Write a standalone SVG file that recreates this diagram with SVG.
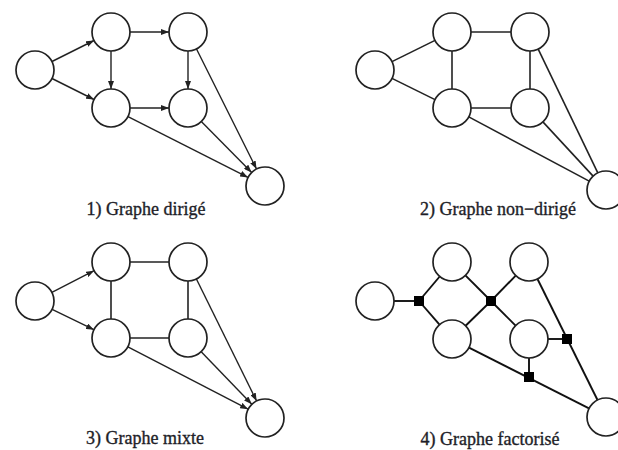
<svg xmlns="http://www.w3.org/2000/svg" width="618" height="450" viewBox="0 0 618 450">
  <style>
    .node { fill: #ffffff; stroke: #222222; stroke-width: 1.7; }
    .edge { stroke: #222222; stroke-width: 1.6; fill: none; }
    .arc { stroke: #222222; stroke-width: 1.4; fill: none; marker-end: url(#arrow); }
    .fedge { stroke: #111111; stroke-width: 1.9; fill: none; }
    .factor { fill: #000000; }
    .label { font-family: "Liberation Serif", "Times New Roman", serif; font-size: 18px; fill: #1e1e28; stroke: #1e1e28; stroke-width: 0.35; text-anchor: middle; }
  </style>
  <defs>
    <marker id="arrow" markerUnits="userSpaceOnUse" markerWidth="9" markerHeight="6" refX="8" refY="3" orient="auto">
      <path d="M0,0 L8,3 L0,6 z" fill="#222222"/>
    </marker>
  </defs>

  <!-- 1) directed graph -->
  <g id="directed">
    <g id="d-edges">
      <line class="arc" x1="52" y1="61.5" x2="94" y2="40.5"/>
      <line class="arc" x1="52" y1="78.5" x2="94" y2="99.5"/>
      <line class="arc" x1="130" y1="32" x2="169" y2="32"/>
      <line class="arc" x1="111" y1="51" x2="111" y2="89"/>
      <line class="arc" x1="188" y1="51" x2="188" y2="89"/>
      <line class="arc" x1="130" y1="108" x2="169" y2="108"/>
      <line class="arc" x1="196.5" y1="49" x2="256.5" y2="169"/>
      <line class="arc" x1="201.3" y1="121.5" x2="251.7" y2="172.5"/>
      <line class="arc" x1="128" y1="116.6" x2="248" y2="177.4"/>
    </g>
    <g id="d-a"><circle class="node" cx="35" cy="70" r="19"/></g>
    <g id="d-b"><circle class="node" cx="111" cy="32" r="19"/></g>
    <g id="d-c"><circle class="node" cx="188" cy="32" r="19"/></g>
    <g id="d-d"><circle class="node" cx="111" cy="108" r="19"/></g>
    <g id="d-e"><circle class="node" cx="188" cy="108" r="19"/></g>
    <g id="d-f"><circle class="node" cx="265" cy="186" r="19"/></g>
    <text class="label" x="146" y="215">1) Graphe dirigé</text>
  </g>

  <!-- 2) undirected graph -->
  <g id="undirected">
    <g id="u-edges">
      <line class="edge" x1="392" y1="61.6" x2="435" y2="40.4"/>
      <line class="edge" x1="392" y1="78.4" x2="435" y2="99.6"/>
      <line class="edge" x1="471" y1="32" x2="511" y2="32"/>
      <line class="edge" x1="452" y1="51" x2="452" y2="89"/>
      <line class="edge" x1="530" y1="51" x2="530" y2="89"/>
      <line class="edge" x1="471" y1="108" x2="511" y2="108"/>
      <line class="edge" x1="538.2" y1="49.1" x2="597.8" y2="172.9"/>
      <line class="edge" x1="542.9" y1="121.9" x2="593.1" y2="176.1"/>
      <line class="edge" x1="468.8" y1="116.9" x2="589.2" y2="181.1"/>
    </g>
    <g id="u-a"><circle class="node" cx="375" cy="70" r="19"/></g>
    <g id="u-b"><circle class="node" cx="452" cy="32" r="19"/></g>
    <g id="u-c"><circle class="node" cx="530" cy="32" r="19"/></g>
    <g id="u-d"><circle class="node" cx="452" cy="108" r="19"/></g>
    <g id="u-e"><circle class="node" cx="530" cy="108" r="19"/></g>
    <g id="u-f"><circle class="node" cx="606" cy="190" r="19"/></g>
    <text class="label" x="498" y="215">2) Graphe non−dirigé</text>
  </g>

  <!-- 3) mixed graph -->
  <g id="mixed">
    <g id="m-edges">
      <line class="arc" x1="51.9" y1="292.3" x2="94.1" y2="270.7"/>
      <line class="arc" x1="52.1" y1="309.3" x2="93.9" y2="329.7"/>
      <line class="edge" x1="130" y1="262" x2="169" y2="262"/>
      <line class="edge" x1="111" y1="281" x2="111" y2="319"/>
      <line class="edge" x1="188" y1="281" x2="188" y2="319"/>
      <line class="edge" x1="130" y1="338" x2="169" y2="338"/>
      <line class="arc" x1="196.4" y1="279" x2="256.6" y2="401"/>
      <line class="arc" x1="201.2" y1="351.7" x2="251.8" y2="404.3"/>
      <line class="arc" x1="127.9" y1="346.8" x2="248.1" y2="409.2"/>
    </g>
    <g id="m-a"><circle class="node" cx="35" cy="301" r="19"/></g>
    <g id="m-b"><circle class="node" cx="111" cy="262" r="19"/></g>
    <g id="m-c"><circle class="node" cx="188" cy="262" r="19"/></g>
    <g id="m-d"><circle class="node" cx="111" cy="338" r="19"/></g>
    <g id="m-e"><circle class="node" cx="188" cy="338" r="19"/></g>
    <g id="m-f"><circle class="node" cx="265" cy="418" r="19"/></g>
    <text class="label" x="145" y="444">3) Graphe mixte</text>
  </g>

  <!-- 4) factor graph -->
  <g id="factor">
    <g id="f-edges">
      <line class="fedge" x1="394" y1="301" x2="419" y2="301"/>
      <line class="fedge" x1="419" y1="301" x2="439.7" y2="276.5"/>
      <line class="fedge" x1="419" y1="301" x2="439.5" y2="324.7"/>
      <line class="fedge" x1="465.4" y1="275.4" x2="491" y2="301"/>
      <line class="fedge" x1="515.7" y1="275.6" x2="491" y2="301"/>
      <line class="fedge" x1="491" y1="301" x2="465.6" y2="325.7"/>
      <line class="fedge" x1="491" y1="301" x2="515.6" y2="325.6"/>
      <line class="fedge" x1="537.5" y1="279" x2="597.5" y2="400"/>
      <line class="fedge" x1="548" y1="339" x2="567" y2="339"/>
      <line class="fedge" x1="469" y1="347.6" x2="589" y2="408.4"/>
      <line class="fedge" x1="529" y1="358" x2="529" y2="377"/>
    </g>
    <g id="f-a"><circle class="node" cx="375" cy="301" r="19"/></g>
    <g id="f-b"><circle class="node" cx="452" cy="262" r="19"/></g>
    <g id="f-c"><circle class="node" cx="529" cy="262" r="19"/></g>
    <g id="f-d"><circle class="node" cx="452" cy="339" r="19"/></g>
    <g id="f-e"><circle class="node" cx="529" cy="339" r="19"/></g>
    <g id="f-f"><circle class="node" cx="606" cy="417" r="19"/></g>
    <g id="f-1"><rect class="factor" x="414" y="296" width="10" height="10"/></g>
    <g id="f-2"><rect class="factor" x="486" y="296" width="10" height="10"/></g>
    <g id="f-3"><rect class="factor" x="562" y="334" width="10" height="10"/></g>
    <g id="f-4"><rect class="factor" x="524" y="372" width="10" height="10"/></g>
    <text class="label" x="490" y="445">4) Graphe factorisé</text>
  </g>
</svg>
